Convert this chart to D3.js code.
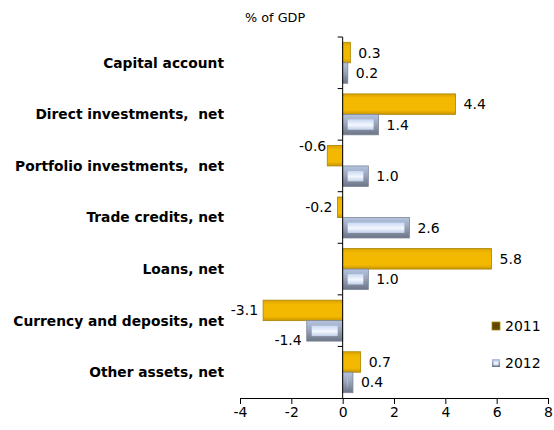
<!DOCTYPE html>
<html>
<head>
<meta charset="utf-8">
<script src="https://cdn.jsdelivr.net/npm/d3@7"></script>
<style>
  body { margin: 0; background: #fff; }
  text { font-family: "DejaVu Sans", Verdana, sans-serif; fill: #000; }
</style>
</head>
<body>
<script>
// data
var categories = ["Capital account", "Direct investments,  net", "Portfolio investments,  net",
                  "Trade credits, net", "Loans, net", "Currency and deposits, net", "Other assets, net"];
var years = ["2011", "2012"];
var values2011 = [0.3, 4.4, -0.6, -0.2, 5.8, -3.1, 0.7];
var values2012 = [0.2, 1.4, 1.0, 2.6, 1.0, -1.4, 0.4];
var xTicks = [-4, -2, 0, 2, 4, 6, 8];
var unitLabel = "% of GDP";

var width = 554, height = 430;
var plotLeft = 240, plotRight = 548, plotTop = 37, plotBottom = 398;

var svg = d3.select("body").append("svg")
    .attr("width", width)
    .attr("height", height);

var loc = d3.formatLocale({ decimal: ".", thousands: ",", grouping: [3], currency: ["", ""], minus: "-" });
var fmt1 = loc.format(".1f");
var fmt0 = loc.format("d");

var defs = svg.append("defs");
// gold bars
var g1 = defs.append("linearGradient").attr("id", "gold").attr("x1", 0).attr("y1", 0).attr("x2", 0).attr("y2", 1);
g1.append("stop").attr("offset", "0%").attr("stop-color", "#d9a200");
g1.append("stop").attr("offset", "20%").attr("stop-color", "#f3b800");
g1.append("stop").attr("offset", "80%").attr("stop-color", "#f3b800");
g1.append("stop").attr("offset", "100%").attr("stop-color", "#c99600");
// bevel frame for 2012
var g2 = defs.append("linearGradient").attr("id", "frame").attr("x1", 0).attr("y1", 0).attr("x2", 0).attr("y2", 1);
g2.append("stop").attr("offset", "0%").attr("stop-color", "#b4c4e0");
g2.append("stop").attr("offset", "45%").attr("stop-color", "#9aa6bc");
g2.append("stop").attr("offset", "100%").attr("stop-color", "#6c7586");
var g3 = defs.append("linearGradient").attr("id", "face").attr("x1", 0).attr("y1", 0).attr("x2", 0).attr("y2", 1);
g3.append("stop").attr("offset", "0%").attr("stop-color", "#c8d8f2");
g3.append("stop").attr("offset", "55%").attr("stop-color", "#f4f8ff");
g3.append("stop").attr("offset", "100%").attr("stop-color", "#c0cee8");

var x = d3.scaleLinear().domain([-4, 8]).range([plotLeft, plotRight]);
var y = d3.scaleBand().domain(categories).range([plotTop, plotBottom]);
var ySub = d3.scaleBand().domain(years).range([0, y.bandwidth()]).paddingOuter(0.26);

// rows of data
var rows = [];
categories.forEach(function (c, i) {
    rows.push({ cat: c, year: "2011", v: values2011[i] });
    rows.push({ cat: c, year: "2012", v: values2012[i] });
});

// small label nudges like the original (Excel moved a couple of labels)
var labelNudge = { "Portfolio investments,  net|2011": -10, "Currency and deposits, net|2012": 9 };

var bars = svg.append("g");
rows.forEach(function (d) {
    var x0 = x(Math.min(0, d.v)), x1 = x(Math.max(0, d.v));
    var y0 = y(d.cat) + ySub(d.year), h = ySub.bandwidth();
    var w = x1 - x0;
    if (d.year === "2011") {
        bars.append("rect")
            .attr("x", x0).attr("y", y0).attr("width", w).attr("height", h)
            .attr("fill", "url(#gold)")
            .attr("stroke", "#a88400").attr("stroke-width", 0.8);
    } else {
        var b = Math.min(5, w / 2, h / 2);
        bars.append("rect")
            .attr("x", x0).attr("y", y0).attr("width", w).attr("height", h)
            .attr("fill", "url(#frame)")
            .attr("stroke", "#7d8698").attr("stroke-width", 0.8);
        bars.append("rect")
            .attr("x", x0 + b).attr("y", y0 + b).attr("width", Math.max(0, w - 2 * b)).attr("height", h - 2 * b)
            .attr("fill", "url(#face)");
    }
    var ny = labelNudge[d.cat + "|" + d.year] || 0;
    bars.append("text")
        .attr("x", d.v >= 0 ? x1 + 8 : x0 - (ny < 0 ? 1 : 5))
        .attr("y", y0 + h / 2 + ny)
        .attr("dy", "0.36em")
        .attr("text-anchor", d.v >= 0 ? "start" : "end")
        .attr("font-size", "14px")
        .text(fmt1(d.v));
});

// x axis
var xAxis = svg.append("g")
    .attr("transform", "translate(0," + plotBottom + ")")
    .call(d3.axisBottom(x).tickValues(xTicks).tickSize(6).tickPadding(3).tickFormat(fmt0));
xAxis.select(".domain").attr("stroke", "#000");
xAxis.selectAll("text").attr("font-size", "14px").attr("font-family", "DejaVu Sans, sans-serif");

// zero line with category ticks
var zx = x(0);
svg.append("line").attr("x1", zx).attr("x2", zx).attr("y1", plotTop).attr("y2", plotBottom).attr("stroke", "#000");
var bounds = categories.map(function (c) { return y(c); });
svg.selectAll(".ytick").data(bounds).enter().append("line")
    .attr("x1", zx - 5).attr("x2", zx)
    .attr("y1", function (d) { return d; }).attr("y2", function (d) { return d; })
    .attr("stroke", "#000");

// category labels
svg.selectAll(".cat").data(categories).enter().append("text")
    .attr("x", 224)
    .attr("y", function (c) { return y(c) + y.bandwidth() / 2; })
    .attr("dy", "0.36em")
    .attr("text-anchor", "end")
    .attr("font-weight", "bold")
    .attr("font-size", "13.8px")
    .attr("xml:space", "preserve")
    .style("white-space", "pre")
    .text(function (c) { return c; });

// unit label
svg.append("text").attr("x", 245).attr("y", 22).attr("font-size", "12.8px").text(unitLabel);

// legend
var legY = [326, 363];
years.forEach(function (yr, i) {
    var g = svg.append("g").attr("transform", "translate(492," + legY[i] + ")");
    if (i === 0) {
        g.append("rect").attr("x", 0).attr("y", -4).attr("width", 8).attr("height", 8)
            .attr("fill", "#5e4500").attr("stroke", "#b08a00").attr("stroke-width", 0.8);
    } else {
        g.append("rect").attr("x", 0).attr("y", -4).attr("width", 8).attr("height", 8)
            .attr("fill", "url(#frame)");
        g.append("rect").attr("x", 1.5).attr("y", -2.5).attr("width", 5).attr("height", 5)
            .attr("fill", "url(#face)");
    }
    g.append("text").attr("x", 13).attr("y", 0).attr("dy", "0.36em")
        .attr("font-size", "14px").text(yr);
});
</script>
</body>
</html>
